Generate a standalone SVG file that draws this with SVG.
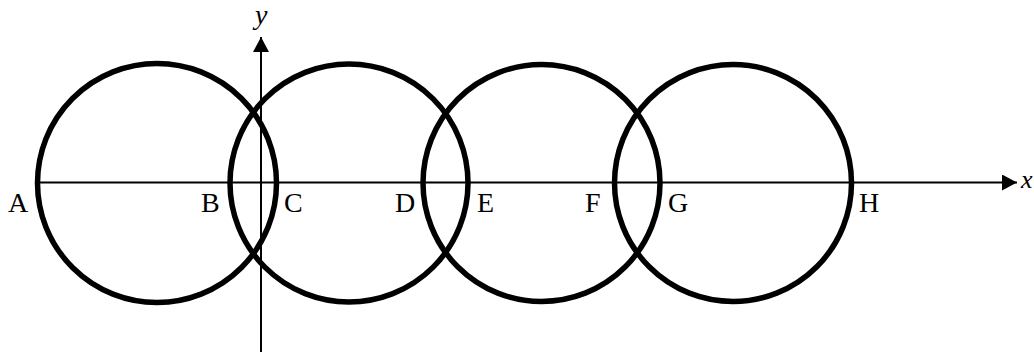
<svg xmlns="http://www.w3.org/2000/svg" width="1034" height="352" viewBox="0 0 1034 352">
<style>
.c{fill:none;stroke:#000;stroke-width:5.5}
.ax{stroke:#000;stroke-width:2;fill:none}
.l{font-family:"Liberation Serif","Times New Roman",serif;font-size:28px;fill:#000}
.i{font-style:italic}
</style>
<defs>
<marker id="arr" markerWidth="15" markerHeight="16" refX="15" refY="8" orient="auto" markerUnits="userSpaceOnUse">
<path d="M0,0 L15,8 L0,16 Z" fill="#000"/>
</marker>
</defs>
<rect width="1034" height="352" fill="#fff"/>
<g id="circles">
<circle id="circle1" class="c" cx="157" cy="183" r="119.5"/>
<circle id="circle2" class="c" cx="349" cy="183" r="119"/>
<circle id="circle3" class="c" cx="541.5" cy="183" r="118.5"/>
<circle id="circle4" class="c" cx="733" cy="183" r="118.5"/>
</g>
<g id="axes">
<line class="ax" x1="37" y1="182.5" x2="1017" y2="182.5" marker-end="url(#arr)"/>
<line class="ax" x1="261" y1="352" x2="261" y2="37" marker-end="url(#arr)"/>
</g>
<g id="labels">
<text class="l" x="8" y="212">A</text>
<text class="l" x="201" y="212">B</text>
<text class="l" x="284" y="212">C</text>
<text class="l" x="395" y="212">D</text>
<text class="l" x="477" y="212">E</text>
<text class="l" x="585" y="212">F</text>
<text class="l" x="668" y="212">G</text>
<text class="l" x="859" y="212">H</text>
<text class="l i" x="255" y="24">y</text>
<text class="l i" x="1021" y="188" style="font-size:26px">x</text>
</g>
</svg>
